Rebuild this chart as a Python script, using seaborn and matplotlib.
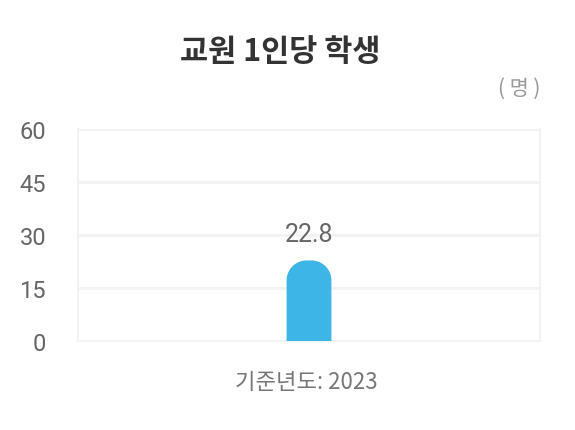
import matplotlib
matplotlib.use("Agg")
import matplotlib.pyplot as plt
import seaborn as sns
import pandas as pd
import numpy as np
from matplotlib.patches import PathPatch
from matplotlib.path import Path

categories = ["2023"]
values = [22.8]
y_ticks = [0, 15, 30, 45, 60]
title = "교원 1인당 학생"
unit = "( 명 )"
xlabel = "기준년도: 2023"

sns.set_theme(style="white")
plt.rcParams['font.family'] = ['Noto Sans CJK KR', 'DejaVu Sans']
NUM_FONT = ['Roboto', 'DejaVu Sans']

df = pd.DataFrame({"year": categories, "value": values})

fig = plt.figure(figsize=(5.75, 4.31), dpi=100)
ax = fig.add_axes([78/575, 1-342/431, (540-78)/575, (342-130)/431])

bar_color = "#3db5e6"
sns.barplot(data=df, x="year", y="value", ax=ax, color=bar_color, width=0.097, saturation=1)

ax.set_xlim(-0.5, 0.5)
ax.set_ylim(0, 60)
ax.set_yticks(y_ticks)
ax.set_yticklabels([str(t) for t in y_ticks], fontsize=17, color="#666666", family=NUM_FONT)
ax.tick_params(axis='y', length=0, pad=23)
ax.set_xticks([])
ax.set_xlabel("")
ax.set_ylabel("")
ax.grid(axis='y', color="#f2f2f2", linewidth=2)
ax.set_axisbelow(True)
ax.spines["top"].set_visible(False)
for s in ["left", "right", "bottom"]:
    ax.spines[s].set_color("#f2f2f2")
    ax.spines[s].set_linewidth(1.5)

# rounded top bar built from the seaborn bar geometry
fig.canvas.draw()
bb = ax.get_window_extent()
px_per_x = bb.width / 1.0
px_per_y = bb.height / 60.0
r_px = 20
rx = r_px / px_per_x
ry = r_px / px_per_y
for p in list(ax.patches):
    x0, w, h = p.get_x(), p.get_width(), p.get_height()
    p.remove()
    rxx = min(rx, w / 2)
    t1 = np.linspace(np.pi, np.pi / 2, 20)
    t2 = np.linspace(np.pi / 2, 0, 20)
    left = np.column_stack([x0 + rxx + rxx * np.cos(t1), h - ry + ry * np.sin(t1)])
    right = np.column_stack([x0 + w - rxx + rxx * np.cos(t2), h - ry + ry * np.sin(t2)])
    pts = np.vstack([[x0, 0], left, right, [x0 + w, 0], [x0, 0]])
    ax.add_patch(PathPatch(Path(pts), facecolor=bar_color, edgecolor="none", zorder=3))
    ax.text(x0 + w / 2, h + 4.0, f"{h:.1f}", ha="center", va="bottom",
            fontsize=18, color="#666666", family=NUM_FONT)

fig.text(280/575, 1-52/431, title, ha="center", va="center", fontsize=22,
         fontweight="bold", color="#333333")
fig.text(540/575, 1-89/431, unit, ha="right", va="center", fontsize=15, color="#999999")
fig.text(306/575, 1-383/431, xlabel, ha="center", va="center", fontsize=16, color="#777777")

fig.savefig("out.png", dpi=100)
